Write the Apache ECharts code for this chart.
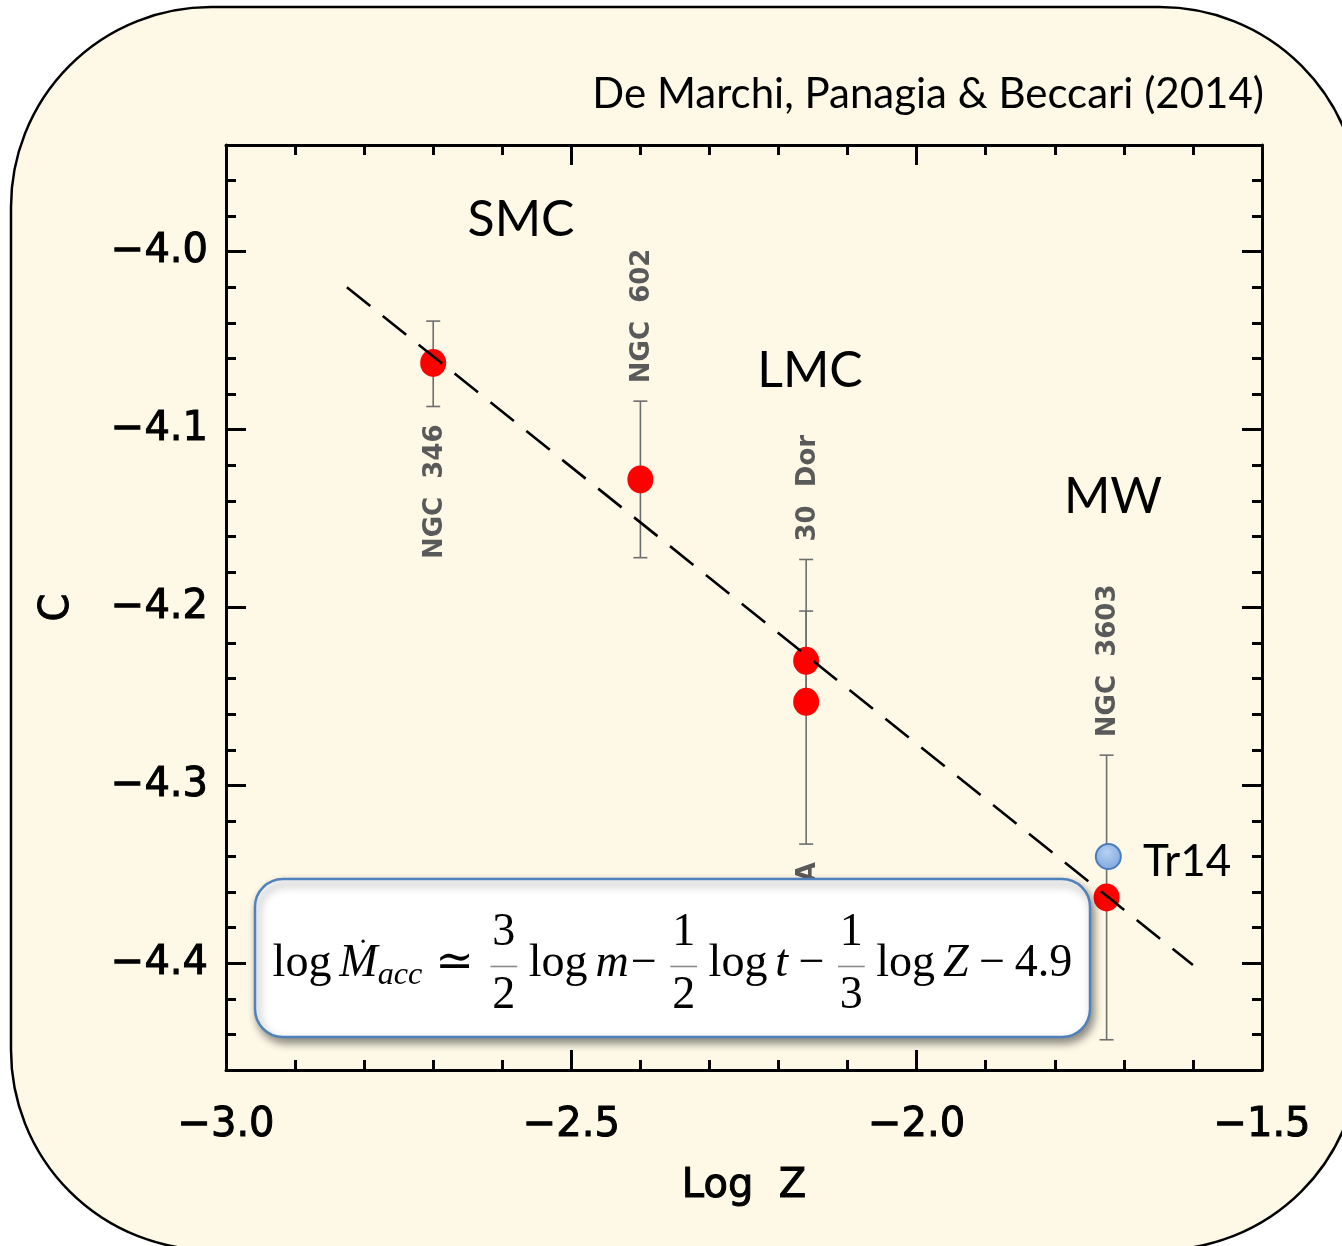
<!DOCTYPE html>
<html>
<head>
<meta charset="utf-8">
<script src="https://cdn.jsdelivr.net/npm/echarts@6/dist/echarts.min.js"></script>
<style>
  html, body { margin: 0; padding: 0; background: #ffffff; }
  #chart { width: 1342px; height: 1246px; }
</style>
</head>
<body>
<div id="chart"></div>
<script>
// Accretion-rate offset C versus metallicity for young clusters
const clusters   = ['NGC  346', 'NGC  602', '30  Dor', 'SN 1987A', 'NGC  3603'];
const logZ       = [-2.70, -2.40, -2.16, -2.16, -1.725];
const cValue     = [-4.0625, -4.128, -4.230, -4.253, -4.363];
const cErrLow    = [-4.087, -4.172, -4.257, -4.333, -4.443];
const cErrHigh   = [-4.039, -4.084, -4.202, -4.173, -4.283];
const labelSide  = ['below', 'above', 'above', 'below', 'above'];

const tr14Name   = 'Tr14';
const tr14LogZ   = [-1.7225];
const tr14C      = [-4.340];

// Fitted relation (dashed)
const fitLogZ    = [-2.825, -1.600];
const fitC       = [-4.020, -4.401];

const regionNames = ['SMC', 'LMC', 'MW'];
const xTicks      = [-3.0, -2.5, -2.0, -1.5];
const yMajorTicks = [-4.4, -4.3, -4.2, -4.1, -4.0];
const yMinorTicks = [-4.46, -4.44, -4.42, -4.40, -4.38, -4.36, -4.34, -4.32, -4.30, -4.28,
                     -4.26, -4.24, -4.22, -4.20, -4.18, -4.16, -4.14, -4.12, -4.10, -4.08,
                     -4.06, -4.04, -4.02, -4.00, -3.98, -3.96, -3.94];

const X_MIN = -3.0, X_MAX = -1.5, Y_MIN = -4.46, Y_MAX = -3.94;
const GRID = { left: 226, top: 145, width: 1036, height: 925 };

const INK = '#000000';
const CREAM = '#fef9e7';
const LABEL_GREY = '#5a5a5a';
const BAR_GREY = '#6e6e6e';
const AXIS_FONT = '"DejaVu Sans", sans-serif';
const TEXT_FONT = 'Lato, "Open Sans", sans-serif';
const EQ_FONT = '"Liberation Serif", "DejaVu Serif", serif';

const fmt = v => (v < 0 ? '\u2212' : '') + Math.abs(v).toFixed(1);

const chart = echarts.init(document.getElementById('chart'), null, { renderer: 'canvas' });

// ---------- Equation layout (measured so it fits inside its box) ----------
const mctx = document.createElement('canvas').getContext('2d');
function measure(text, size, italic) {
  mctx.font = (italic ? 'italic ' : '') + size + 'px ' + EQ_FONT;
  return mctx.measureText(text).width;
}
const eqParts = [
  { t: 'log' }, { gap: 0.17 }, { t: 'M', it: true, dot: true }, { t: 'acc', it: true, sub: true },
  { gap: 0.28 }, { t: '\u2243' }, { gap: 0.28 }, { frac: ['3', '2'] }, { gap: 0.17 },
  { t: 'log' }, { gap: 0.17 }, { t: 'm', it: true }, { gap: 0.04 }, { t: '\u2212' }, { gap: 0.22 },
  { frac: ['1', '2'] }, { gap: 0.17 }, { t: 'log' }, { gap: 0.17 }, { t: 't', it: true },
  { gap: 0.22 }, { t: '\u2212' }, { gap: 0.22 }, { frac: ['1', '3'] }, { gap: 0.17 },
  { t: 'log' }, { gap: 0.17 }, { t: 'Z', it: true }, { gap: 0.22 }, { t: '\u2212' }, { gap: 0.22 },
  { t: '4.9' }
];
function partWidth(p, F) {
  if (p.gap !== undefined) return p.gap * F;
  if (p.frac) return Math.max(measure(p.frac[0], F), measure(p.frac[1], F)) + 0.24 * F;
  return measure(p.t, p.sub ? 0.7 * F : F, p.it);
}
const EQ_BOX = { x: 255, y: 879, w: 835, h: 158 };
const EQ_TARGET_W = 800;
const totalAt100 = eqParts.reduce((s, p) => s + partWidth(p, 100), 0);
const EQ_F = Math.min(56, 100 * EQ_TARGET_W / totalAt100);
const EQ_BASE = 978;
const eqChildren = [];
(function layoutEquation() {
  const F = EQ_F;
  const total = eqParts.reduce((s, p) => s + partWidth(p, F), 0);
  let x = EQ_BOX.x + EQ_BOX.w / 2 - total / 2;
  const mid = 0.30; // distance of the canvas 'middle' line above the baseline, in em
  eqParts.forEach(p => {
    const w = partWidth(p, F);
    if (p.gap !== undefined) { x += w; return; }
    if (p.frac) {
      const cx = x + w / 2;
      eqChildren.push({ type: 'text', x: cx, y: EQ_BASE - 0.68 * F - mid * F,
        style: { text: p.frac[0], font: F + 'px ' + EQ_FONT, fill: INK, align: 'center', verticalAlign: 'middle' } });
      eqChildren.push({ type: 'text', x: cx, y: EQ_BASE + 0.69 * F - mid * F,
        style: { text: p.frac[1], font: F + 'px ' + EQ_FONT, fill: INK, align: 'center', verticalAlign: 'middle' } });
      eqChildren.push({ type: 'line', shape: { x1: x + 0.08 * F, y1: EQ_BASE - 0.25 * F, x2: x + w - 0.08 * F, y2: EQ_BASE - 0.25 * F },
        style: { stroke: '#8a8a8a', lineWidth: 1.6 } });
    } else {
      const size = p.sub ? 0.7 * F : F;
      const base = p.sub ? EQ_BASE + 0.15 * F : EQ_BASE;
      eqChildren.push({ type: 'text', x: x, y: base - mid * size,
        style: { text: p.t, font: (p.it ? 'italic ' : '') + size + 'px ' + EQ_FONT, fill: INK, align: 'left', verticalAlign: 'middle' } });
      if (p.dot) {
        eqChildren.push({ type: 'circle', shape: { cx: x + w * 0.62, cy: base - 0.80 * F, r: 0.035 * F }, style: { fill: INK } });
      }
    }
    x += w;
  });
})();

// ---------- Series data ----------
const pointData = logZ.map((x, i) => ({ name: clusters[i], value: [x, cValue[i]] }));
const barData = logZ.map((x, i) => [x, cErrLow[i], cErrHigh[i]]);
const labelData = logZ.map((x, i) => {
  const same = logZ.map((v, j) => j).filter(j => logZ[j] === x);
  const anchor = labelSide[i] === 'above'
    ? Math.max.apply(null, same.map(j => cErrHigh[j]))
    : Math.min.apply(null, same.map(j => cErrLow[j]));
  return { name: clusters[i], value: [x, anchor, labelSide[i] === 'above' ? 1 : 0] };
});
const fitData = fitLogZ.map((x, i) => [x, fitC[i]]);

const LABEL_GAP = 18;

const axisLineStyle = { show: true, lineStyle: { color: INK, width: 3 } };
// medium-weight axis lettering: regular face with a thin outline of the same colour
const axisText = { color: INK, fontFamily: AXIS_FONT, fontSize: 40, fontWeight: 'normal',
  textBorderColor: INK, textBorderWidth: 1 };

const option = {
  backgroundColor: '#ffffff',
  animation: false,
  grid: [
    Object.assign({}, GRID, { containLabel: false }),
    Object.assign({}, GRID, { containLabel: false })
  ],
  xAxis: [
    {
      gridIndex: 0, type: 'value', position: 'bottom', min: X_MIN, max: X_MAX, interval: 0.5,
      axisLine: axisLineStyle,
      axisTick: { show: true, inside: true, length: 20, lineStyle: { color: INK, width: 3 } },
      minorTick: { show: true, splitNumber: 5, length: 10, lineStyle: { color: INK, width: 3 } },
      splitLine: { show: false }, minorSplitLine: { show: false },
      axisLabel: Object.assign({ show: true, margin: 36, customValues: xTicks, formatter: fmt,
        showMinLabel: true, showMaxLabel: true }, axisText),
      name: 'Log  Z', nameLocation: 'middle', nameGap: 97,
      nameTextStyle: axisText
    },
    {
      gridIndex: 0, type: 'value', position: 'top', min: X_MIN, max: X_MAX, interval: 0.5,
      axisLine: axisLineStyle,
      axisTick: { show: true, inside: true, length: 20, lineStyle: { color: INK, width: 3 } },
      minorTick: { show: true, splitNumber: 5, length: 10, lineStyle: { color: INK, width: 3 } },
      splitLine: { show: false }, minorSplitLine: { show: false },
      axisLabel: { show: false }
    },
    {
      gridIndex: 1, type: 'value', min: X_MIN, max: X_MAX, show: false
    }
  ],
  yAxis: [
    {
      gridIndex: 0, type: 'value', position: 'left', min: Y_MIN, max: Y_MAX,
      axisLine: axisLineStyle,
      axisTick: { show: true, inside: true, length: 20, customValues: yMajorTicks, lineStyle: { color: INK, width: 3 } },
      splitLine: { show: false },
      axisLabel: Object.assign({ show: true, margin: 18, customValues: yMajorTicks, formatter: fmt }, axisText),
      name: 'C', nameLocation: 'middle', nameGap: 148, nameRotate: 90,
      nameTextStyle: axisText
    },
    {
      gridIndex: 0, type: 'value', position: 'right', min: Y_MIN, max: Y_MAX,
      axisLine: axisLineStyle,
      axisTick: { show: true, inside: true, length: 20, customValues: yMajorTicks, lineStyle: { color: INK, width: 3 } },
      splitLine: { show: false },
      axisLabel: { show: false }
    },
    {
      gridIndex: 1, type: 'value', position: 'left', min: Y_MIN, max: Y_MAX,
      axisLine: { show: false },
      axisTick: { show: true, inside: true, length: 10, customValues: yMinorTicks, lineStyle: { color: INK, width: 3 } },
      splitLine: { show: false },
      axisLabel: { show: false }
    },
    {
      gridIndex: 1, type: 'value', position: 'right', min: Y_MIN, max: Y_MAX,
      axisLine: { show: false },
      axisTick: { show: true, inside: true, length: 10, customValues: yMinorTicks, lineStyle: { color: INK, width: 3 } },
      splitLine: { show: false },
      axisLabel: { show: false }
    }
  ],
  graphic: [
    // rounded cream panel
    { type: 'rect', z: -10, silent: true,
      shape: { x: 11, y: 7, width: 1349, height: 1243, r: 200 },
      style: { fill: CREAM, stroke: INK, lineWidth: 2.5 } },
    // citation
    { type: 'text', z: 5, x: 1264, y: 94,
      style: { text: 'De Marchi, Panagia & Beccari (2014)', font: '42px ' + TEXT_FONT, fill: INK, align: 'right', verticalAlign: 'middle' } },
    // galaxy names
    { type: 'text', z: 5, x: 521, y: 220,
      style: { text: regionNames[0], font: '50px ' + TEXT_FONT, fill: INK, align: 'center', verticalAlign: 'middle' } },
    { type: 'text', z: 5, x: 810, y: 371,
      style: { text: regionNames[1], font: '50px ' + TEXT_FONT, fill: INK, align: 'center', verticalAlign: 'middle' } },
    { type: 'text', z: 5, x: 1113, y: 497,
      style: { text: regionNames[2], font: '50px ' + TEXT_FONT, fill: INK, align: 'center', verticalAlign: 'middle' } },
    // Tr14 tag
    { type: 'text', z: 5, x: 1143, y: 862,
      style: { text: tr14Name, font: '44px ' + TEXT_FONT, fill: INK, align: 'left', verticalAlign: 'middle' } },
    // equation box
    { type: 'group', z: 100, children: [
      { type: 'rect', z: 100,
        shape: { x: EQ_BOX.x, y: EQ_BOX.y, width: EQ_BOX.w, height: EQ_BOX.h, r: 28 },
        style: { fill: '#ffffff', stroke: '#4f81bd', lineWidth: 2.5,
          shadowBlur: 8, shadowOffsetX: 3, shadowOffsetY: 5, shadowColor: 'rgba(0,0,0,0.45)' } }
    ].concat(eqChildren.map(c => Object.assign({ z: 101 }, c))) }
  ],
  series: [
    {
      // error bars
      type: 'custom', xAxisIndex: 0, yAxisIndex: 0, z: 2, silent: true,
      data: barData,
      renderItem: function (params, api) {
        const x = api.value(0);
        const lo = api.coord([x, api.value(1)]);
        const hi = api.coord([x, api.value(2)]);
        const cap = 7;
        const st = { stroke: BAR_GREY, lineWidth: 1.6 };
        return { type: 'group', children: [
          { type: 'line', shape: { x1: lo[0], y1: lo[1], x2: hi[0], y2: hi[1] }, style: st },
          { type: 'line', shape: { x1: lo[0] - cap, y1: lo[1], x2: lo[0] + cap, y2: lo[1] }, style: st },
          { type: 'line', shape: { x1: hi[0] - cap, y1: hi[1], x2: hi[0] + cap, y2: hi[1] }, style: st }
        ] };
      }
    },
    {
      // rotated cluster names next to the bars
      type: 'custom', xAxisIndex: 0, yAxisIndex: 0, z: 2, silent: true,
      data: labelData,
      renderItem: function (params, api) {
        const p = api.coord([api.value(0), api.value(1)]);
        const above = api.value(2) === 1;
        return {
          type: 'text', x: p[0] + 2, y: above ? p[1] - LABEL_GAP : p[1] + LABEL_GAP, rotation: Math.PI / 2,
          style: { text: clusters[params.dataIndex], font: 'bold 26px ' + AXIS_FONT, fill: LABEL_GREY,
            align: above ? 'left' : 'right', verticalAlign: 'middle' }
        };
      }
    },
    {
      type: 'scatter', xAxisIndex: 0, yAxisIndex: 0, z: 3, silent: true,
      data: pointData, symbol: 'circle', symbolSize: [26, 28],
      itemStyle: { color: '#ff0000', opacity: 1 }
    },
    {
      type: 'scatter', xAxisIndex: 0, yAxisIndex: 0, z: 3, silent: true,
      data: tr14LogZ.map((x, i) => [x, tr14C[i]]), symbol: 'circle', symbolSize: 25,
      itemStyle: {
        opacity: 1,
        color: new echarts.graphic.RadialGradient(0.45, 0.35, 0.7, [
          { offset: 0, color: '#b7d1f2' }, { offset: 1, color: '#7aa3dc' }
        ]),
        borderColor: '#4a7ebb', borderWidth: 2
      }
    },
    {
      // fitted relation
      type: 'line', xAxisIndex: 0, yAxisIndex: 0, z: 4, silent: true,
      data: fitData, showSymbol: false, symbol: 'none',
      lineStyle: { color: INK, width: 2.6, type: [30, 16] }
    }
  ]
};

chart.setOption(option);
</script>
</body>
</html>
